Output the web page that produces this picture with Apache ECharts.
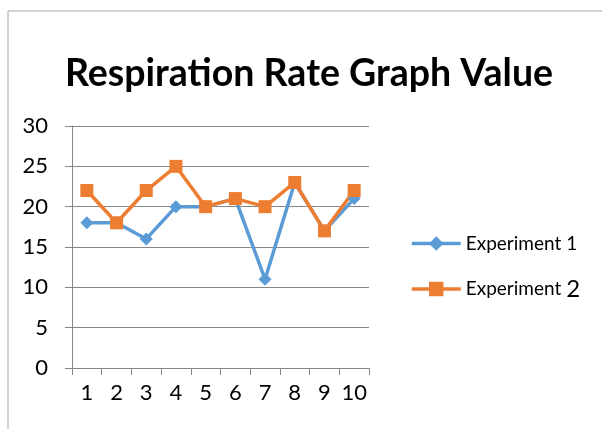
<!DOCTYPE html>
<html>
<head>
<meta charset="utf-8">
<script src="https://cdn.jsdelivr.net/npm/echarts@6/dist/echarts.min.js"></script>
<style>
  html, body { margin: 0; padding: 0; background: #fff; }
  #main { width: 602px; height: 429px; }
</style>
</head>
<body>
<div id="main"></div>
<script>
const trials = ['1', '2', '3', '4', '5', '6', '7', '8', '9', '10'];
const experiment1 = [18, 18, 16, 20, 20, 21, 11, 23, 17, 21];
const experiment2 = [22, 18, 22, 25, 20, 21, 20, 23, 17, 22];
const yTicks = [0, 5, 10, 15, 20, 25, 30];

const chart = echarts.init(document.getElementById('main'));
const font = 'Lato, "Open Sans", sans-serif';

chart.setOption({
    animation: false,
    textStyle: { fontFamily: font },
    graphic: [{
        type: 'rect',
        shape: { x: 8, y: 11, width: 620, height: 440 },
        style: { fill: 'none', stroke: '#a6a6a6', lineWidth: 1 },
        silent: true
    }],
    title: {
        text: 'Respiration Rate Graph Value',
        left: 304, top: 50, textAlign: 'center',
        textStyle: { fontFamily: font, fontSize: 37.5, fontWeight: 'bold', color: '#000' }
    },
    legend: {
        orient: 'vertical',
        left: 405, top: 229,
        itemWidth: 49, itemHeight: 18, itemGap: 24,
        lineStyle: { width: 3.5 },
        textStyle: {
            fontFamily: font, fontSize: 19, color: '#000',
            rich: { big: { fontSize: 24, fontFamily: font, color: '#000' } }
        },
        formatter: function (name) {
            return name === 'Experiment 2' ? 'Experiment {big|2}' : name;
        },
        data: ['Experiment 1', 'Experiment 2']
    },
    grid: { left: 72, right: 233, top: 126, bottom: 61 },
    xAxis: {
        type: 'category',
        data: trials,
        boundaryGap: true,
        axisLine: { lineStyle: { color: '#868686', width: 1 } },
        axisTick: { show: true, length: 7, interval: 0, lineStyle: { color: '#868686' } },
        axisLabel: { fontSize: 22, color: '#000', margin: 14, interval: 0, fontFamily: font },
        splitLine: { show: false }
    },
    yAxis: {
        type: 'value',
        min: yTicks[0], max: yTicks[yTicks.length - 1], interval: 5,
        axisLine: { show: true, lineStyle: { color: '#868686', width: 1 } },
        axisTick: { show: true, length: 7, lineStyle: { color: '#868686' } },
        axisLabel: { fontSize: 22, color: '#000', margin: 24, fontFamily: font },
        splitLine: { lineStyle: { color: '#868686', width: 1 } }
    },
    series: [
        {
            name: 'Experiment 1',
            type: 'line',
            data: experiment1,
            color: '#5b9bd5',
            symbol: 'diamond',
            symbolSize: 13,
            lineStyle: { width: 3.5, color: '#5b9bd5' },
            itemStyle: { color: '#5b9bd5' }
        },
        {
            name: 'Experiment 2',
            type: 'line',
            data: experiment2,
            color: '#ed7d31',
            symbol: 'rect',
            symbolSize: 13,
            lineStyle: { width: 3.5, color: '#ed7d31' },
            itemStyle: { color: '#ed7d31' }
        }
    ]
});
</script>
</body>
</html>
